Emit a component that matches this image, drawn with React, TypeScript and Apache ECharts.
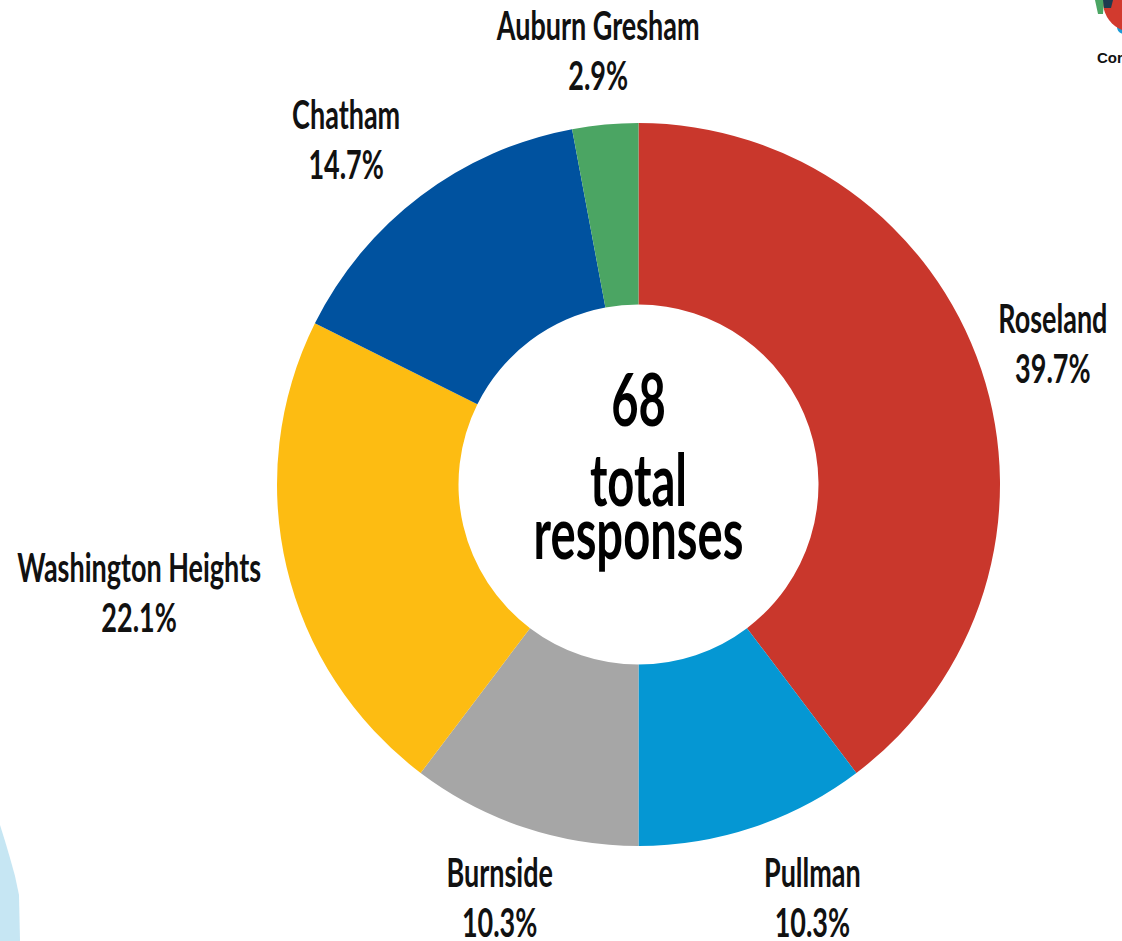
import React, { useEffect, useRef } from "react";
import * as echarts from "echarts";

// ---- data ----
const categories = ["Roseland", "Pullman", "Burnside", "Washington Heights", "Chatham", "Auburn Gresham"];
const responses = [27, 7, 7, 15, 10, 2];
const sliceColors = ["#C9372C", "#0597D3", "#A6A6A6", "#FDBC12", "#00529F", "#4BA563"];
const centerNumber = "68";
const centerCaption = "total\nresponses";

// ---- layout ----
const W = 1122;
const H = 941;
const CX = 638.5;
const CY = 484.5;
const R_IN = 180;
const R_OUT = 361.5;
const LABEL_DIST = 437;
const LABEL_NUDGE: [number, number][] = [
  [0, -3],
  [35, -3],
  [0, -3],
  [-74, 7],
  [-29, 2],
  [0, 0],
];
const FONT = "Lato";
const LABEL_SX = 0.675;
const CENTER_SX = 0.655;

export default function App() {
  const ref = useRef<HTMLDivElement>(null);

  useEffect(() => {
    if (!ref.current) return;
    const chart = echarts.init(ref.current, null, { renderer: "svg" });
    const total = responses.reduce((a, b) => a + b, 0);

    // label texts positioned along each slice's mid angle
    let cum = 0;
    const labelEls: any[] = categories.map((name, i) => {
      const mid = cum + responses[i] / 2;
      cum += responses[i];
      const ang = (mid / total) * Math.PI * 2; // clockwise from top
      const x = CX + LABEL_DIST * Math.sin(ang) + LABEL_NUDGE[i][0];
      const y = CY - LABEL_DIST * Math.cos(ang) + LABEL_NUDGE[i][1];
      const pct = ((responses[i] / total) * 100).toFixed(1) + "%";
      return {
        type: "text",
        x,
        y,
        scaleX: LABEL_SX,
        z: 10,
        style: {
          text: name + "\n" + pct,
          fontFamily: FONT,
          fontWeight: "bold",
          fontSize: 40,
          lineHeight: 50,
          fill: "#111111",
          align: "center",
          verticalAlign: "middle",
        },
      };
    });

    const option: any = {
      animation: false,
      backgroundColor: "#ffffff",
      series: [
        {
          type: "pie",
          center: [CX, CY],
          radius: [R_IN, R_OUT],
          startAngle: 90,
          clockwise: true,
          avoidLabelOverlap: false,
          label: { show: false },
          labelLine: { show: false },
          emphasis: { disabled: true },
          itemStyle: { borderWidth: 0 },
          data: categories.map((name, i) => ({
            name,
            value: responses[i],
            itemStyle: { color: sliceColors[i] },
          })),
        },
      ],
      graphic: [
        // decorative corner pieces
        {
          type: "polygon",
          shape: {
            points: [
              [0, 825], [5, 841], [10, 858], [15, 876], [19, 895], [20, 941], [0, 941],
            ],
          },
          style: { fill: "#C6E6F3" },
        },
        { type: "circle", shape: { cx: 1124, cy: 27, r: 7 }, style: { fill: "#1A9AD6" } },
        { type: "circle", shape: { cx: 1133, cy: 2, r: 30 }, style: { fill: "#D23A2E" } },
        {
          type: "polygon",
          shape: { points: [[1095, 0], [1104, 0], [1103, 14], [1098, 14]] },
          style: { fill: "#4BA563" },
        },
        {
          type: "polygon",
          shape: { points: [[1103, 0], [1113, 0], [1111, 8], [1104, 8]] },
          style: { fill: "#1D3B4F" },
        },
        {
          type: "text",
          x: 1097,
          y: 57,
          style: {
            text: "Cor",
            fontFamily: "Liberation Sans, Arial, sans-serif",
            fontWeight: "bold",
            fontSize: 15,
            fill: "#111111",
            align: "left",
            verticalAlign: "middle",
          },
        },
        // center text
        {
          type: "text",
          x: CX,
          y: 398,
          scaleX: CENTER_SX,
          z: 10,
          style: {
            text: centerNumber,
            fontFamily: FONT,
            fontWeight: "bold",
            fontSize: 72,
            fill: "#000000",
            align: "center",
            verticalAlign: "middle",
          },
        },
        {
          type: "text",
          x: CX,
          y: 505,
          scaleX: CENTER_SX,
          z: 10,
          style: {
            text: centerCaption,
            fontFamily: FONT,
            fontWeight: "bold",
            fontSize: 72,
            lineHeight: 53,
            fill: "#000000",
            align: "center",
            verticalAlign: "middle",
          },
        },
        ...labelEls,
      ],
    };

    chart.setOption(option);
    return () => chart.dispose();
  }, []);

  return (
    <div
      ref={ref}
      style={{ position: "absolute", left: 0, top: 0, width: W, height: H }}
    />
  );
}
